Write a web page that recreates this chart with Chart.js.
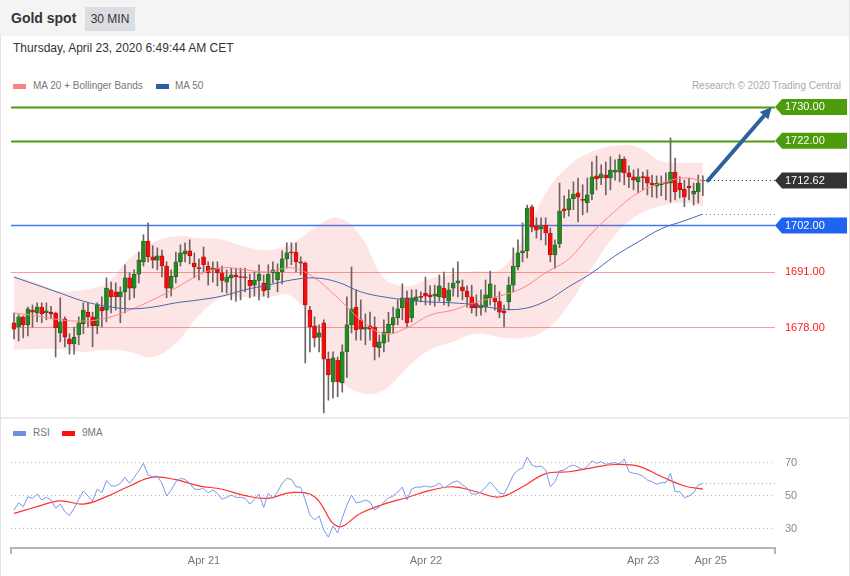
<!DOCTYPE html>
<html>
<head>
<meta charset="utf-8">
<title>Gold spot 30 MIN</title>
<script src="https://cdn.jsdelivr.net/npm/chart.js@4.4.1/dist/chart.umd.min.js"></script>
<style>
  body { margin: 0; background: #fff; font-family: "Liberation Sans", Arial, sans-serif; }
  #page { position: relative; width: 850px; height: 576px; overflow: hidden; background: #fff; }
  #page .abs { position: absolute; }
  #hdr { left: 0; top: 0; width: 850px; height: 36px; background: #f4f4f5; }
  #title { left: 11px; top: 10px; font-size: 14px; font-weight: bold; color: #333; }
  #badge { left: 85px; top: 7px; width: 50px; height: 24px; line-height: 24px; background: #dcdde2; color: #333; font-size: 12px; text-align: center; }
  #date { left: 13px; top: 41px; font-size: 12px; color: #333; }
  .leg { font-size: 10px; color: #777; white-space: nowrap; }
  .sw { width: 13px; height: 5px; }
  #credit { right: 9px; top: 80px; font-size: 10px; color: #aaa; }
  #sep { left: 0; top: 417px; width: 850px; height: 2px; background: #ececec; }
  #edgeL { left: 0; top: 36px; width: 1px; height: 540px; background: #e4e4e4; }
  #edgeR { left: 849px; top: 0; width: 1px; height: 576px; background: #e4e4e4; }
  canvas { position: absolute; left: 0; }
</style>
</head>
<body>
<div id="page">
  <div class="abs" id="hdr"></div>
  <div class="abs" id="title">Gold spot</div>
  <div class="abs" id="badge">30 MIN</div>
  <div class="abs" id="date">Thursday, April 23, 2020 6:49:44 AM CET</div>

  <div class="abs sw" style="left:13px;top:84px;background:#ff8080;"></div>
  <div class="abs leg" style="left:33px;top:80px;">MA 20 + Bollinger Bands</div>
  <div class="abs sw" style="left:156px;top:84px;background:#2f5f9f;"></div>
  <div class="abs leg" style="left:175px;top:80px;">MA 50</div>
  <div class="abs leg" id="credit">Research © 2020 Trading Central</div>

  <canvas id="priceChart" width="850" height="381" style="top:36px;"></canvas>
  <div class="abs" id="sep"></div>

  <div class="abs sw" style="left:13px;top:431px;background:#6f8fe6;"></div>
  <div class="abs leg" style="left:33px;top:427px;">RSI</div>
  <div class="abs sw" style="left:62px;top:431px;background:#ff1010;"></div>
  <div class="abs leg" style="left:82px;top:427px;">9MA</div>

  <canvas id="rsiChart" width="850" height="157" style="top:419px;"></canvas>
  <div class="abs" id="edgeL"></div>
  <div class="abs" id="edgeR"></div>
</div>

<script>
// 30 min candles, Apr 20 ~03:30 -> Apr 23 06:30 (index 0..149)
const open = [
  1679.0,1678.0,1680.4,1678.5,1682.0,1681.3,1682.7,1681.3,1681.5,1681.3,
  1676.6,1679.9,1675.2,1674.0,1676.1,1678.7,1681.5,1680.4,1678.3,1682.7,
  1682.0,1686.8,1686.3,1685.1,1686.3,1689.6,1687.2,1690.5,1693.4,1698.3,
  1694.6,1693.8,1694.8,1692.4,1687.2,1689.8,1693.4,1695.3,1696.0,1693.1,
  1691.9,1694.6,1692.4,1691.5,1691.9,1690.8,1688.6,1689.6,1690.3,1689.8,
  1689.8,1689.0,1687.9,1689.0,1688.4,1686.8,1690.8,1689.1,1691.0,1694.1,
  1695.7,1695.7,1693.4,1693.1,1682.0,1678.3,1675.6,1679.0,1670.4,1665.0,
  1670.2,1664.8,1672.1,1678.5,1682.7,1679.7,1677.5,1678.3,1678.0,1673.1,
  1674.2,1676.6,1678.5,1680.2,1682.5,1684.9,1680.2,1684.1,1685.1,1686.0,
  1685.6,1685.3,1685.1,1687.2,1684.1,1687.2,1688.4,1687.5,1686.5,1685.1,
  1683.5,1682.5,1682.7,1684.9,1684.9,1684.0,1681.8,1684.0,1687.9,1692.2,
  1695.5,1696.0,1706.4,1701.9,1701.2,1702.1,1700.2,1695.0,1697.6,1705.9,
  1705.7,1708.3,1709.7,1708.0,1707.3,1709.4,1713.7,1713.2,1713.9,1713.2,
  1714.6,1714.6,1717.7,1714.4,1713.5,1712.3,1713.5,1713.5,1712.0,1711.3,
  1711.6,1712.0,1712.0,1714.6,1712.0,1710.6,1711.3,1709.4,1709.9,1712.5
];
const high = [
  1681.3,1680.9,1680.6,1682.7,1683.2,1683.7,1683.7,1683.7,1682.9,1681.5,
  1684.9,1680.4,1676.4,1678.0,1680.4,1683.7,1683.7,1681.5,1683.7,1685.1,
  1689.6,1688.6,1688.4,1687.5,1692.7,1690.8,1691.5,1695.7,1699.8,1702.6,
  1697.2,1696.7,1696.2,1693.4,1691.5,1695.7,1697.4,1697.9,1698.6,1695.5,
  1694.1,1696.9,1693.4,1693.4,1693.4,1692.4,1691.5,1691.9,1691.9,1691.9,
  1691.9,1690.5,1691.0,1692.7,1690.3,1692.7,1693.4,1692.9,1696.0,1697.9,
  1697.9,1697.9,1694.6,1693.4,1682.9,1680.4,1678.5,1679.7,1672.1,1672.1,
  1670.9,1673.8,1685.1,1692.2,1686.8,1684.4,1681.1,1681.5,1680.4,1676.1,
  1679.7,1681.5,1682.7,1684.4,1688.2,1686.5,1686.8,1686.8,1686.3,1689.8,
  1687.7,1687.9,1690.3,1691.0,1688.4,1691.9,1693.4,1689.1,1687.7,1687.9,
  1685.6,1686.8,1689.1,1691.2,1687.9,1686.3,1683.2,1689.8,1696.7,1698.6,
  1702.6,1706.8,1706.8,1703.8,1703.8,1703.8,1701.4,1698.6,1712.0,1709.0,
  1710.4,1712.3,1713.2,1711.6,1713.2,1717.0,1718.4,1716.3,1717.0,1718.2,
  1717.5,1718.7,1718.2,1716.1,1715.1,1715.4,1714.6,1715.1,1713.9,1713.7,
  1713.7,1714.4,1722.7,1717.9,1713.5,1712.7,1713.2,1712.0,1713.9,1713.7
];
const low = [
  1675.2,1674.7,1675.4,1675.9,1678.0,1679.2,1679.0,1679.7,1679.9,1670.9,
  1674.5,1673.3,1671.6,1671.6,1673.8,1676.4,1678.0,1673.3,1676.4,1678.0,
  1679.2,1681.3,1682.0,1679.0,1681.3,1684.4,1684.9,1688.4,1692.4,1693.4,
  1691.9,1691.5,1689.8,1684.9,1685.3,1688.4,1692.4,1693.4,1692.9,1689.6,
  1689.1,1691.0,1687.9,1688.6,1687.7,1686.3,1686.0,1684.4,1684.1,1684.4,
  1686.3,1684.9,1685.3,1684.4,1685.3,1684.9,1688.4,1686.3,1688.2,1691.9,
  1692.7,1691.0,1690.3,1669.5,1672.1,1673.3,1672.1,1657.7,1660.7,1661.2,
  1661.5,1662.6,1666.1,1676.6,1674.9,1674.9,1673.8,1674.9,1670.2,1670.9,
  1672.1,1674.5,1676.4,1678.5,1679.7,1678.0,1679.2,1683.2,1683.9,1683.2,
  1683.2,1682.9,1684.1,1683.2,1682.9,1685.3,1685.1,1684.4,1682.7,1681.3,
  1680.6,1680.8,1681.5,1683.2,1682.0,1680.2,1678.0,1682.0,1686.3,1691.5,
  1693.4,1694.3,1700.5,1699.0,1698.6,1697.4,1693.4,1691.9,1696.7,1703.8,
  1704.2,1705.7,1702.8,1704.5,1705.1,1708.0,1710.4,1711.6,1709.2,1710.4,
  1712.7,1712.3,1711.6,1710.9,1710.4,1709.7,1710.4,1709.2,1708.7,1708.5,
  1709.0,1708.0,1707.5,1708.0,1708.5,1706.4,1708.0,1706.8,1707.3,1709.0
];
const close = [
  1677.5,1680.4,1678.5,1682.3,1681.5,1682.7,1681.1,1681.8,1681.1,1677.8,
  1679.2,1675.6,1674.0,1675.6,1679.0,1682.0,1680.4,1678.3,1683.2,1681.8,
  1687.2,1685.1,1685.1,1686.3,1689.6,1687.2,1690.5,1693.8,1698.3,1694.6,
  1693.8,1694.8,1692.4,1687.2,1690.0,1693.4,1695.5,1696.0,1694.8,1692.2,
  1691.8,1692.7,1690.8,1691.9,1690.8,1689.0,1689.8,1690.3,1689.8,1689.7,
  1689.6,1687.7,1689.1,1690.5,1686.5,1690.5,1691.5,1691.0,1694.1,1695.5,
  1695.5,1693.4,1693.1,1683.2,1678.0,1675.4,1676.6,1670.4,1666.7,1670.7,
  1665.0,1672.1,1678.5,1682.3,1677.3,1677.5,1678.0,1677.5,1673.3,1674.5,
  1676.8,1678.7,1680.2,1682.3,1684.9,1679.0,1684.9,1685.1,1685.0,1685.3,
  1685.1,1685.8,1687.7,1684.9,1686.8,1688.4,1688.9,1686.5,1685.1,1682.5,
  1682.5,1683.2,1685.6,1688.2,1684.0,1681.5,1681.3,1687.9,1692.4,1695.5,
  1696.0,1706.1,1701.6,1700.9,1701.9,1700.2,1695.0,1697.4,1705.4,1705.4,
  1708.3,1709.4,1708.7,1707.9,1709.2,1713.5,1713.0,1714.2,1713.2,1715.1,
  1715.1,1717.7,1714.4,1713.5,1712.7,1713.5,1713.3,1712.0,1711.6,1712.0,
  1712.0,1711.9,1714.6,1709.9,1710.4,1708.7,1710.9,1710.1,1712.0,1712.62
];

// indicator lines, read every 5th candle
const maIdx = [0,5,10,15,20,25,30,35,40,45,50,55,60,65,70,75,80,85,90,95,100,105,110,115,120,125,130,135,140,145,149];
const bbUpper = [1690.1,1688.4,1686.5,1686.8,1688.4,1694.1,1697.9,1699.5,1699.0,1698.6,1696.9,1696.2,1697.6,1701.4,1703.8,1699.5,1689.6,1687.7,1689.4,1690.5,1691.2,1691.5,1698.6,1709.7,1716.1,1719.4,1720.8,1720.5,1717.2,1716.8,1716.8];
const ma20 =    [1681.3,1680.6,1679.7,1679.4,1680.1,1682.0,1684.4,1687.2,1690.3,1692.0,1691.5,1691.0,1692.0,1689.6,1684.9,1679.7,1676.4,1677.8,1680.8,1682.0,1683.9,1685.3,1687.2,1690.8,1694.1,1700.2,1705.4,1709.7,1712.0,1713.2,1712.5];
const bbLower = [1672.6,1672.8,1672.8,1672.1,1672.6,1672.1,1670.9,1674.2,1680.8,1684.9,1685.1,1685.1,1685.3,1677.8,1666.2,1662.4,1663.1,1668.3,1672.6,1674.5,1676.4,1675.6,1675.4,1677.3,1683.2,1692.0,1699.7,1704.5,1706.6,1707.3,1706.6];
const ma50 =    [1689.8,1687.9,1686.0,1684.1,1682.9,1682.3,1682.7,1683.7,1684.4,1685.3,1686.8,1687.9,1689.1,1689.6,1688.6,1686.3,1685.1,1684.4,1683.9,1683.7,1683.2,1682.3,1682.3,1684.1,1687.5,1690.8,1694.8,1698.1,1701.2,1703.1,1704.7];

const rsi = [
  40.9,45.3,42.9,49.0,48.0,50.6,47.0,48.6,47.0,42.0,
  44.5,39.9,37.5,42.0,47.4,52.4,49.4,46.4,53.6,51.4,
  58.7,55.5,55.5,57.1,60.7,57.1,60.7,64.7,69.2,62.1,
  61.1,61.5,57.1,49.4,53.0,58.0,60.1,59.5,57.1,53.6,
  53.4,54.0,51.4,53.0,51.0,47.4,48.6,50.0,48.6,48.6,
  48.0,44.5,47.4,50.6,42.5,51.0,48.0,52.0,57.1,60.1,
  59.5,55.0,54.7,47.0,37.9,34.9,37.3,28.8,24.5,31.2,
  27.0,36.1,43.9,50.0,45.2,45.8,47.0,45.8,40.9,42.7,
  45.8,48.2,49.4,51.8,54.8,47.0,53.6,54.8,54.8,55.5,
  54.8,55.5,57.3,54.2,56.1,57.9,58.5,56.1,54.2,50.6,
  50.6,51.8,54.8,57.9,54.8,51.2,50.6,56.1,62.1,65.2,
  66.4,73.0,68.2,67.0,67.6,65.2,55.0,58.1,64.7,65.2,
  67.2,68.2,66.8,65.6,67.2,70.6,69.2,70.2,68.6,69.2,
  69.6,68.8,71.8,64.1,63.2,62.7,61.5,59.1,58.1,56.5,
  57.5,57.5,63.2,52.0,52.0,48.4,49.4,51.4,56.1,57.1
];
const rsiMa = [38.9,43.0,46.5,44.5,49.0,55.5,60.8,59.3,55.6,53.5,49.6,48.0,51.5,49.0,31.0,39.0,44.5,48.5,52.8,55.0,52.0,48.8,55.0,63.0,64.1,66.5,68.5,67.5,61.2,55.5,53.6];

// horizontal levels and axis labels
const levels = [1730, 1722, 1702, 1691, 1678];
const lastPrice = 1712.62;
const target = 1730;
const rsiLevels = [70, 50, 30];
const tickLabels = ['Apr 21', 'Apr 22', 'Apr 23', 'Apr 25'];
const tickIdx = [41.1, 89.1, 136.1, 150.7];

const levelStyle = {
  1730: { color: '#4d9c0c', width: 2, tag: '#4d9c0c' },
  1722: { color: '#4d9c0c', width: 2, tag: '#4d9c0c' },
  1702: { color: '#3f7af0', width: 1.5, tag: '#1f63ee' },
  1691: { color: '#ff9a9a', width: 1.2, text: '#ff1a1a' },
  1678: { color: '#ff9a9a', width: 1.2, text: '#ff1a1a' }
};

Chart.defaults.font.family = '"Liberation Sans", Arial, sans-serif';

const X_MIN = -0.65, X_MAX = 164.6;
const n = close.length;
const idx = close.map((c, i) => i);
const up = idx.map(i => close[i] >= open[i]);

function tag(ctx, y, text, bg, a) {
  const x0 = a.right, h = 16;
  ctx.save();
  ctx.fillStyle = bg;
  ctx.beginPath();
  ctx.moveTo(x0, y);
  ctx.lineTo(x0 + 7, y - h / 2);
  ctx.lineTo(x0 + 72, y - h / 2);
  ctx.lineTo(x0 + 72, y + h / 2);
  ctx.lineTo(x0 + 7, y + h / 2);
  ctx.closePath();
  ctx.fill();
  ctx.fillStyle = '#fff';
  ctx.font = '11px "Liberation Sans", Arial, sans-serif';
  ctx.textBaseline = 'middle';
  ctx.fillText(text, x0 + 10, y + 0.5);
  ctx.restore();
}

function dotted(ctx, x1, x2, y, color) {
  ctx.save();
  ctx.strokeStyle = color;
  ctx.lineWidth = 1;
  ctx.setLineDash([1, 3]);
  ctx.beginPath();
  ctx.moveTo(x1, Math.round(y) + 0.5);
  ctx.lineTo(x2, Math.round(y) + 0.5);
  ctx.stroke();
  ctx.restore();
}

const priceDecor = {
  id: 'priceDecor',
  beforeDatasetsDraw(chart) {
    const { ctx, chartArea: a, scales: { y } } = chart;
    levels.forEach(v => {
      const s = levelStyle[v];
      const py = Math.round(y.getPixelForValue(v)) + 0.5;
      ctx.save();
      ctx.strokeStyle = s.color;
      ctx.lineWidth = s.width;
      ctx.beginPath();
      ctx.moveTo(a.left, py);
      ctx.lineTo(a.right, py);
      ctx.stroke();
      ctx.restore();
    });
  },
  afterDatasetsDraw(chart) {
    const { ctx, chartArea: a, scales: { x, y } } = chart;
    const xEnd = x.getPixelForValue(n - 1) + 3;

    dotted(ctx, xEnd, a.right, y.getPixelForValue(lastPrice), '#222');
    dotted(ctx, xEnd, a.right, y.getPixelForValue(ma50[ma50.length - 1]), '#5570b0');

    // arrow towards the target
    const x1 = x.getPixelForValue(n + 0.1), y1 = y.getPixelForValue(lastPrice);
    const x2 = x.getPixelForValue(163.9), y2 = y.getPixelForValue(target);
    const ang = Math.atan2(y2 - y1, x2 - x1);
    const head = 13;
    ctx.save();
    ctx.strokeStyle = '#2f5f9f';
    ctx.fillStyle = '#2f5f9f';
    ctx.lineWidth = 4;
    ctx.lineCap = 'round';
    ctx.beginPath();
    ctx.moveTo(x1, y1);
    ctx.lineTo(x2 - Math.cos(ang) * head * 0.8, y2 - Math.sin(ang) * head * 0.8);
    ctx.stroke();
    ctx.beginPath();
    ctx.moveTo(x2, y2);
    ctx.lineTo(x2 - head * Math.cos(ang - 0.45), y2 - head * Math.sin(ang - 0.45));
    ctx.lineTo(x2 - head * Math.cos(ang + 0.45), y2 - head * Math.sin(ang + 0.45));
    ctx.closePath();
    ctx.fill();
    ctx.restore();

    // right side labels
    levels.forEach(v => {
      const s = levelStyle[v];
      const py = y.getPixelForValue(v);
      if (s.tag) {
        tag(ctx, py, v.toFixed(2), s.tag, a);
      } else {
        ctx.save();
        ctx.fillStyle = s.text;
        ctx.font = '11px "Liberation Sans", Arial, sans-serif';
        ctx.textBaseline = 'middle';
        ctx.fillText(v.toFixed(2), a.right + 10, py + 0.5);
        ctx.restore();
      }
    });
    tag(ctx, y.getPixelForValue(lastPrice), lastPrice.toFixed(2), '#333333', a);
  }
};

new Chart(document.getElementById('priceChart'), {
  type: 'bar',
  data: {
    datasets: [
      {
        type: 'line', label: 'BB upper',
        data: maIdx.map((v, k) => ({ x: v, y: bbUpper[k] })),
        borderWidth: 0, pointRadius: 0, tension: 0.4,
        fill: '+1', backgroundColor: 'rgba(250, 80, 80, 0.15)', order: 10
      },
      {
        type: 'line', label: 'BB lower',
        data: maIdx.map((v, k) => ({ x: v, y: bbLower[k] })),
        borderWidth: 0, pointRadius: 0, tension: 0.4, fill: false, order: 10
      },
      {
        label: 'wicks',
        data: idx.map(i => ({ x: i, y: [low[i], high[i]] })),
        backgroundColor: '#6f6262', barThickness: 1, grouped: false, order: 5
      },
      {
        label: 'bodies',
        data: idx.map(i => ({ x: i, y: [open[i], close[i]] })),
        backgroundColor: up.map(u => u ? '#238a23' : '#ee1010'),
        borderColor: up.map(u => u ? '#155a15' : '#b80000'),
        borderWidth: 0.6, borderSkipped: false,
        barThickness: 4, minBarLength: 1, grouped: false, order: 4
      },
      {
        type: 'line', label: 'MA 20',
        data: maIdx.map((v, k) => ({ x: v, y: ma20[k] })),
        borderColor: '#ff8585', borderWidth: 1, pointRadius: 0, tension: 0.4, fill: false, order: 2
      },
      {
        type: 'line', label: 'MA 50',
        data: maIdx.map((v, k) => ({ x: v, y: ma50[k] })),
        borderColor: '#4766aa', borderWidth: 1, pointRadius: 0, tension: 0.4, fill: false, order: 1
      }
    ]
  },
  options: {
    responsive: false,
    animation: false,
    devicePixelRatio: 1,
    events: [],
    layout: { padding: { left: 11, right: 75, top: 54, bottom: 2 } },
    plugins: { legend: { display: false }, tooltip: { enabled: false } },
    scales: {
      x: { type: 'linear', min: X_MIN, max: X_MAX, offset: false, display: false },
      y: { type: 'linear', min: 1657.2, max: 1734.0, display: false }
    }
  },
  plugins: [priceDecor]
});

const rsiDecor = {
  id: 'rsiDecor',
  beforeDatasetsDraw(chart) {
    const { ctx, chartArea: a, scales: { y } } = chart;
    rsiLevels.forEach(v => {
      const py = y.getPixelForValue(v);
      dotted(ctx, a.left, a.right, py, '#b8b8b8');
      ctx.save();
      ctx.fillStyle = '#888';
      ctx.font = '11px "Liberation Sans", Arial, sans-serif';
      ctx.textBaseline = 'middle';
      ctx.fillText(String(v), a.right + 10, py + 0.5);
      ctx.restore();
    });
  },
  afterDatasetsDraw(chart) {
    const { ctx, chartArea: a, scales: { x, y } } = chart;
    dotted(ctx, x.getPixelForValue(n - 1) + 3, a.right, y.getPixelForValue(rsi[n - 1]), '#7f95d8');

    // time axis
    ctx.save();
    ctx.strokeStyle = '#b5b5b5';
    ctx.lineWidth = 2;
    ctx.beginPath();
    ctx.moveTo(a.left, a.bottom + 6);
    ctx.lineTo(a.left, a.bottom);
    ctx.lineTo(a.right, a.bottom);
    ctx.lineTo(a.right, a.bottom + 6);
    ctx.stroke();
    ctx.fillStyle = '#777';
    ctx.font = '11px "Liberation Sans", Arial, sans-serif';
    ctx.textAlign = 'center';
    ctx.textBaseline = 'middle';
    tickLabels.forEach((t, k) => ctx.fillText(t, x.getPixelForValue(tickIdx[k]), a.bottom + 13));
    ctx.restore();
  }
};

new Chart(document.getElementById('rsiChart'), {
  type: 'line',
  data: {
    datasets: [
      {
        label: 'RSI',
        data: idx.map(i => ({ x: i, y: rsi[i] })),
        borderColor: '#7b96ea', borderWidth: 1, pointRadius: 0, tension: 0, fill: false
      },
      {
        label: '9MA',
        data: maIdx.map((v, k) => ({ x: v, y: rsiMa[k] })),
        borderColor: '#ff3030', borderWidth: 1.2, pointRadius: 0, tension: 0.4, fill: false
      }
    ]
  },
  options: {
    responsive: false,
    animation: false,
    devicePixelRatio: 1,
    events: [],
    layout: { padding: { left: 11, right: 75, top: 21, bottom: 28 } },
    plugins: { legend: { display: false }, tooltip: { enabled: false } },
    scales: {
      x: { type: 'linear', min: X_MIN, max: X_MAX, display: false },
      y: { type: 'linear', min: 17.9, max: 83.35, display: false }
    }
  },
  plugins: [rsiDecor]
});
</script>
</body>
</html>
